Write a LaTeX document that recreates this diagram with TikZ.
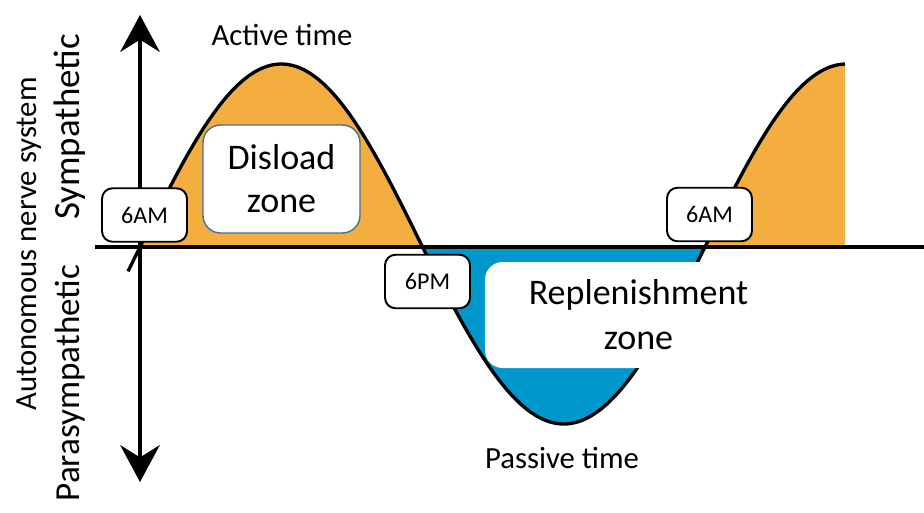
\documentclass[tikz,border=0pt]{standalone}
\usepackage{fontspec}
\setmainfont{Carlito}
\usetikzlibrary{arrows.meta}
\definecolor{sunorange}{HTML}{F4AE40}
\definecolor{nightblue}{HTML}{0098CC}
\definecolor{boxedge}{HTML}{41719C}
\begin{document}
\begin{tikzpicture}[x=0.02cm,y=-0.02cm,
  timebox/.style={draw=black, line width=1.1pt, fill=white, rounded corners=6pt,
    minimum width=1.7cm, minimum height=1.07cm, inner sep=0pt,
    font=\fontsize{13.7}{16}\selectfont},
  zonebox/.style={fill=white, rounded corners=10pt, inner sep=0pt, align=center},
  axisline/.style={line width=1.9pt, black},
  wave/.style={line width=1.9pt, black},
  biglabel/.style={font=\fontsize{17.5}{20}\selectfont},
  sidelabel/.style={rotate=90, inner sep=0pt}
]
\useasboundingbox (0,0) rectangle (924,512);
\fill[white] (0,0) rectangle (924,512);
% fills
\fill[sunorange] (140,247) -- plot[domain=140:422.5,samples=80] (\x,{247-183*sin(0.637168*(\x-140))}) -- cycle;
\fill[nightblue] (422.5,247) -- plot[domain=422.5:705,samples=80] (\x,{247-177*sin(0.637168*(\x-140))}) -- cycle;
\fill[sunorange] (705,247) -- plot[domain=705:845,samples=50] (\x,{247-183*sin(0.637168*(\x-140))}) -- (845,247) -- cycle;
% axes
\coordinate (hL) at (95,247);
\coordinate (hR) at (924,247);
\coordinate (vB) at (140,482);
\coordinate (vT) at (140,15);
\draw[axisline] (hL) -- (hR);
\draw[axisline, {Stealth[length=21pt,width=22.5pt,inset=7pt]}-{Stealth[length=21pt,width=22.5pt,inset=7pt]}] (vB) -- (vT);
% wave
\draw[wave] plot[domain=128:422.5,samples=90] (\x,{247-183*sin(0.637168*(\x-140))})
  -- plot[domain=422.5:705,samples=90] (\x,{247-177*sin(0.637168*(\x-140))})
  -- plot[domain=705:845,samples=50] (\x,{247-183*sin(0.637168*(\x-140))});
% zone boxes
\node[zonebox, draw=boxedge, line width=0.8pt, minimum width=3.14cm, minimum height=2.16cm,
  font=\fontsize{20.5}{24.5}\selectfont] (disload) at (281.5,179) {Disload\\zone};
\node[zonebox, minimum width=6.14cm, minimum height=2.12cm,
  font=\fontsize{20.5}{25.5}\selectfont] (replen) at (638.5,315) {Replenishment\\zone};
% time boxes
\node[timebox] (am1) at (144.5,215) {6AM};
\node[timebox] (pm) at (427.5,281.5) {6PM};
\node[timebox] (am2) at (709.5,214.5) {6AM};
% labels
\node[biglabel] (active) at (282,35) {Active time};
\node[biglabel] (passive) at (562,458) {Passive time};
\node[sidelabel, font=\fontsize{21}{24}\selectfont] (symp) at (70,127) {Sympathetic};
\node[sidelabel, font=\fontsize{20}{24}\selectfont] (para) at (70,383) {Parasympathetic};
\node[sidelabel, font=\fontsize{17.5}{20}\selectfont] (ans) at (29,244) {Autonomous nerve system};
\end{tikzpicture}
\end{document}
